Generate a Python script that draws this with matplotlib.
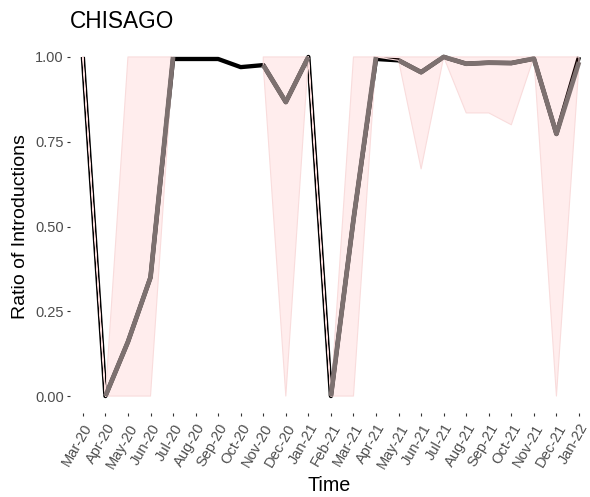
import numpy as np
import matplotlib
matplotlib.use("Agg")
import matplotlib.pyplot as plt

plt.rcParams['font.family'] = ['Liberation Sans', 'DejaVu Sans']

# Monthly ratio of introductions, CHISAGO
months = ["Mar-20", "Apr-20", "May-20", "Jun-20", "Jul-20", "Aug-20", "Sep-20",
          "Oct-20", "Nov-20", "Dec-20", "Jan-21", "Feb-21", "Mar-21", "Apr-21",
          "May-21", "Jun-21", "Jul-21", "Aug-21", "Sep-21", "Oct-21", "Nov-21",
          "Dec-21", "Jan-22"]
observed = [1.0, 0.0, 0.16, 0.35, 0.994, 0.994, 0.994, 0.97, 0.976, 0.867, 1.0,
            0.0, 0.52, 0.994, 0.99, 0.955, 1.0, 0.98, 0.983, 0.982, 0.995, 0.773, 1.0]
nan = np.nan
estimate = [nan, 0.0, 0.16, 0.35, 1.0, nan, nan, nan, 0.976, 0.867, 1.0,
            0.0, 0.52, 1.0, 0.99, 0.955, 1.0, 0.98, 0.983, 0.982, 0.995, 0.773, 0.985]
lower = [1.0, 0.0, 0.0, 0.0, 1.0, nan, nan, nan, 0.976, 0.0, 1.0,
         0.0, 0.0, 1.0, 0.99, 0.67, 1.0, 0.835, 0.835, 0.80, 1.0, 0.0, 0.98]
upper = [1.0, 0.0, 1.0, 1.0, 1.0, nan, nan, nan, 1.0, 1.0, 1.0,
         0.0, 1.0, 1.0, 1.0, 1.0, 1.0, 1.0, 1.0, 1.0, 1.0, 1.0, 1.0]
# index ranges where the estimate line is drawn as one piece
estimate_runs = [(1, 4), (8, 10), (11, 13), (14, 22)]

x = np.arange(len(months))
est = np.array(estimate)

fig = plt.figure(figsize=(5.9, 4.97), dpi=100)
ax = fig.add_axes([70 / 590, (497 - 413) / 497, (588 - 70) / 590, (413 - 40) / 497])

ax.plot(x, observed, color='black', lw=3.1, zorder=2,
        solid_joinstyle='round', solid_capstyle='butt')
ax.fill_between(x, lower, upper, facecolor=(1, 0, 0, 0.07),
                edgecolor='#f9dcdc', lw=0.8, zorder=3)
for a, b in estimate_runs:
    ax.plot(x[a:b + 1], est[a:b + 1], color='#7d7170', lw=3.4, zorder=4,
            solid_joinstyle='round', solid_capstyle='butt')

ax.set_xlim(-0.57, 22.4)
ax.set_ylim(-0.05, 1.05)
ax.set_xticks(x)
ax.set_xticklabels(months, rotation=60, ha='right', va='top', rotation_mode='anchor')
ax.set_yticks([0, 0.25, 0.5, 0.75, 1.0])
ax.set_yticklabels(["0.00", "0.25", "0.50", "0.75", "1.00"])
ax.tick_params(axis='both', length=2.5, width=0.8, color='#333333',
               labelcolor='#4d4d4d', labelsize=10.5, pad=2)
ax.tick_params(axis='x', pad=3.5)
for s in ax.spines.values():
    s.set_visible(False)

ax.set_title("CHISAGO", loc='left', fontsize=16.3, pad=9)
ax.set_xlabel("Time", fontsize=14.2, labelpad=4)
ax.set_ylabel("Ratio of Introductions", fontsize=14, labelpad=4)

fig.savefig("out.png", dpi=100)
